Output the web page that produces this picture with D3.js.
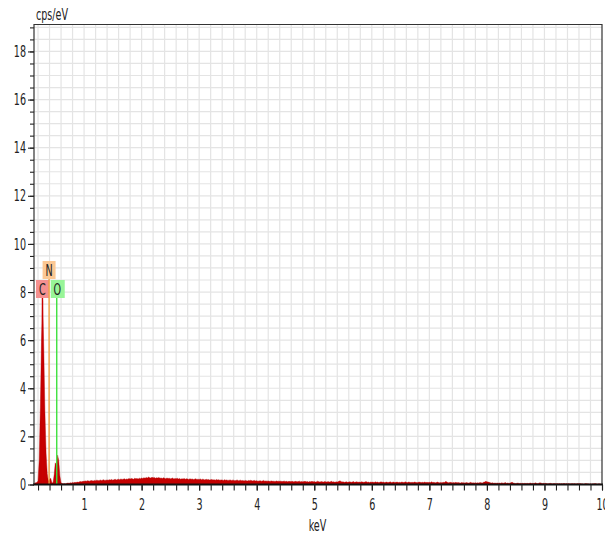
<!DOCTYPE html>
<html>
<head>
<meta charset="utf-8">
<script src="https://cdn.jsdelivr.net/npm/d3@7"></script>
<style>
  body { margin: 0; background: #fff; }
  text { font-family: "DejaVu Sans", sans-serif; fill: #222; }
</style>
</head>
<body>
<div id="vis"></div>
<script>
// spectrum: channel width 0.02 keV, first channel at 0.14 keV (cps/eV)
let channelStart = 0.14;
let channelWidth = 0.02;

let lowCounts = [
  0.06,0.07,0.08,0.15,1.0,3.2,5.9,7.65,5.6,3.0,
  1.3,0.45,0.14,0.22,0.26,0.08,0.06,0.4,0.9,0.8,
  1.22,1.0,0.35,0.07,0.04,0.03,0.04,0.03,0.05,0.06,
  0.05,0.07,0.06,0.08,0.07,0.09,0.08,0.10,0.09,0.11,
  0.12,0.11,0.13
];

let highCounts = [
  0.13,0.15,0.14,0.16,0.15,0.14,0.17,0.16,0.15,0.17,
  0.16,0.18,0.17,0.16,0.19,0.17,0.18,0.20,0.17,0.18,
  0.19,0.18,0.20,0.19,0.21,0.18,0.20,0.22,0.19,0.21,
  0.22,0.20,0.23,0.21,0.22,0.24,0.21,0.23,0.22,0.25,
  0.23,0.25,0.24,0.22,0.26,0.24,0.25,0.23,0.26,0.24,
  0.27,0.25,0.28,0.26,0.29,0.27,0.31,0.28,0.27,0.30,
  0.28,0.29,0.26,0.28,0.27,0.29,0.26,0.27,0.25,0.28,
  0.26,0.24,0.27,0.25,0.26,0.24,0.25,0.27,0.23,0.25,
  0.24,0.26,0.23,0.25,0.22,0.24,0.23,0.25,0.22,0.24,
  0.23,0.21,0.24,0.22,0.23,0.21,0.22,0.24,0.21,0.22,
  0.21,0.23,0.20,0.22,0.21,0.19,0.22,0.20,0.21,0.19,
  0.20,0.21,0.19,0.20,0.18,0.21,0.19,0.20,0.18,0.19,
  0.19,0.17,0.20,0.18,0.19,0.17,0.18,0.19,0.17,0.18,
  0.18,0.16,0.17,0.19,0.16,0.17,0.18,0.16,0.17,0.15,
  0.17,0.16,0.15,0.17,0.16,0.18,0.15,0.16,0.17,0.15,
  0.16,0.14,0.15,0.16,0.14,0.15,0.17,0.14,0.15,0.14,
  0.15,0.13,0.14,0.15,0.13,0.14,0.12,0.15,0.13,0.14,
  0.13,0.14,0.12,0.13,0.14,0.12,0.13,0.11,0.13,0.12,
  0.12,0.13,0.11,0.12,0.13,0.11,0.12,0.14,0.11,0.12,
  0.11,0.12,0.13,0.11,0.12,0.10,0.12,0.11,0.13,0.11,
  0.12,0.10,0.11,0.14,0.11,0.10,0.12,0.11,0.10,0.12,
  0.11,0.10,0.12,0.10,0.11,0.13,0.10,0.11,0.09,0.11,
  0.10,0.12,0.15,0.14,0.10,0.11,0.09,0.10,0.11,0.09,
  0.10,0.11,0.09,0.10,0.12,0.09,0.10,0.11,0.09,0.10,
  0.09,0.11,0.10,0.09,0.10,0.12,0.09,0.10,0.08,0.10,
  0.09,0.10,0.08,0.11,0.09,0.10,0.08,0.09,0.11,0.09,
  0.10,0.08,0.09,0.10,0.08,0.09,0.11,0.08,0.09,0.10,
  0.08,0.09,0.10,0.08,0.09,0.08,0.10,0.09,0.08,0.11,
  0.09,0.08,0.10,0.09,0.08,0.09,0.08,0.10,0.09,0.08,
  0.08,0.10,0.09,0.08,0.09,0.08,0.10,0.08,0.09,0.08,
  0.09,0.08,0.11,0.08,0.09,0.07,0.08,0.10,0.08,0.07,
  0.08,0.07,0.09,0.08,0.12,0.11,0.08,0.07,0.09,0.08,
  0.07,0.08,0.07,0.09,0.07,0.08,0.07,0.06,0.08,0.07,
  0.07,0.06,0.08,0.07,0.06,0.07,0.09,0.06,0.07,0.06,
  0.07,0.06,0.07,0.06,0.08,0.07,0.06,0.09,0.10,0.13,
  0.11,0.10,0.09,0.07,0.06,0.07,0.05,0.06,0.05,0.06,
  0.05,0.06,0.05,0.07,0.05,0.06,0.08,0.05,0.06,0.05,
  0.05,0.08,0.09,0.06,0.05,0.04,0.05,0.06,0.04,0.05,
  0.04,0.05,0.04,0.05,0.04,0.05,0.04,0.05,0.06,0.04,
  0.05,0.04,0.07,0.05,0.04,0.05,0.07,0.06,0.04,0.05,
  0.04,0.05,0.04,0.03,0.04,0.05,0.04,0.03,0.04,0.04,
  0.03,0.04,0.03,0.04,0.03,0.04,0.03,0.05,0.03,0.04,
  0.03,0.04,0.03,0.03,0.04,0.03,0.04,0.03,0.03,0.04,
  0.03,0.04,0.03,0.03,0.02,0.03,0.04,0.03,0.03,0.02,
  0.03,0.02,0.03,0.03,0.04,0.03,0.02,0.03,0.03,0.02
];

let elements = ["C", "N", "O"];
let elementEnergies = [0.277, 0.392, 0.525];
let elementRows = [0, 1, 0];
let elementLineColors = ["#c80000", "#f0a040", "#3ee03e"];
let elementBoxColors = ["#f59090", "#fcc894", "#98f598"];

let yMajorTicks = [0, 2, 4, 6, 8, 10, 12, 14, 16, 18];
let xMajorTicks = [1, 2, 3, 4, 5, 6, 7, 8, 9, 10];
let xLabel = "keV";
let yLabel = "cps/eV";

let width = 605, height = 534;
let margin = {top: 24.5, right: 3, bottom: 49.5, left: 34};
let squeeze = 0.6;

let counts = lowCounts.concat(highCounts);

let x = d3.scaleLinear()
    .domain([0.13, 10])
    .range([margin.left, width - margin.right]);

let y = d3.scaleLinear()
    .domain([0, 19.12])
    .range([height - margin.bottom, margin.top]);

let svg = d3.select("#vis").append("svg")
    .attr("width", width)
    .attr("height", height);

// grid
let xGrid = d3.range(1, 50).map(i => i * 0.2);
let yGrid = d3.range(1, 39).map(i => i * 0.5);

svg.append("g").selectAll("line")
  .data(xGrid)
  .enter().append("line")
    .attr("x1", d => x(d)).attr("x2", d => x(d))
    .attr("y1", y.range()[1]).attr("y2", y.range()[0])
    .attr("stroke", "#e4e4e4")
    .attr("stroke-width", 1.2);

svg.append("g").selectAll("line")
  .data(yGrid)
  .enter().append("line")
    .attr("x1", x.range()[0]).attr("x2", x.range()[1])
    .attr("y1", d => y(d)).attr("y2", d => y(d))
    .attr("stroke", "#e4e4e4")
    .attr("stroke-width", 1.2);

// spectrum
let area = d3.area()
    .x((d, i) => x(channelStart + i * channelWidth))
    .y0(y(0))
    .y1(d => y(d));

svg.append("path")
    .datum(counts)
    .attr("d", area)
    .attr("fill", "#c40000")
    .attr("stroke", "#b00000")
    .attr("stroke-width", 0.4);

// element lines and labels
let boxW = 13, boxH = 18;
let rowTop = r => 280 - r * 19;

let marker = svg.selectAll(".element")
    .data(elements)
  .enter().append("g")
    .attr("class", "element");

marker.append("line")
    .attr("x1", (d, i) => x(elementEnergies[i]))
    .attr("x2", (d, i) => x(elementEnergies[i]))
    .attr("y1", (d, i) => rowTop(elementRows[i]) + boxH)
    .attr("y2", y(0))
    .attr("stroke", (d, i) => elementLineColors[i])
    .attr("stroke-width", 1.4);

marker.append("rect")
    .attr("x", (d, i) => x(elementEnergies[i]) - boxW / 2 + (d === "O" ? 0.5 : 0))
    .attr("y", (d, i) => rowTop(elementRows[i]))
    .attr("width", (d, i) => d === "O" ? 14 : boxW)
    .attr("height", boxH)
    .attr("fill", (d, i) => elementBoxColors[i]);

marker.append("text")
    .attr("transform", (d, i) => `translate(${x(elementEnergies[i]) + (d === "O" ? 0.5 : 0)},${rowTop(elementRows[i]) + 14.5}) scale(${squeeze},1)`)
    .attr("text-anchor", "middle")
    .style("font-size", "16px")
    .text(d => d);

// frame
svg.append("path")
    .attr("d", `M${x.range()[0]},${y.range()[0]}V${y.range()[1]}H${x.range()[1]}V${y.range()[0]}`)
    .attr("fill", "none")
    .attr("stroke", "#333")
    .attr("stroke-width", 1.2);

svg.append("line")
    .attr("x1", x.range()[0] - 1).attr("x2", x.range()[1] + 1)
    .attr("y1", y(0)).attr("y2", y(0))
    .attr("stroke", "#111")
    .attr("stroke-width", 2);

// axes
let yMinor = svg.append("g")
    .attr("transform", `translate(${margin.left},0)`)
    .call(d3.axisLeft(y).tickValues(d3.range(0, 39).map(i => i * 0.5)).tickSize(4).tickFormat(""));

let yMajor = svg.append("g")
    .attr("transform", `translate(${margin.left},0)`)
    .call(d3.axisLeft(y).tickValues(yMajorTicks).tickSize(6));

let xMinor = svg.append("g")
    .attr("transform", `translate(0,${y(0)})`)
    .call(d3.axisBottom(x).tickValues(xGrid.concat([10])).tickSize(6).tickFormat(""));

let xMajor = svg.append("g")
    .attr("transform", `translate(0,${y(0)})`)
    .call(d3.axisBottom(x).tickValues(xMajorTicks).tickSize(6).tickFormat(d3.format("d")));

[yMinor, yMajor, xMinor, xMajor].forEach(g => {
  g.select(".domain").remove();
  g.selectAll(".tick line").attr("stroke", "#222").attr("stroke-width", 1.1);
});

yMajor.selectAll(".tick text")
    .attr("x", -8 / squeeze)
    .attr("transform", `scale(${squeeze},1)`)
    .style("font-size", "16px")
    .style("fill", "#222");

xMajor.selectAll(".tick text")
    .attr("y", 14)
    .attr("transform", `scale(${squeeze},1)`)
    .style("font-size", "16px")
    .style("fill", "#222");

svg.append("text")
    .attr("transform", `translate(36,19.5) scale(${squeeze},1)`)
    .style("font-size", "16px")
    .text(yLabel);

svg.append("text")
    .attr("transform", `translate(317.5,531) scale(${squeeze},1)`)
    .attr("text-anchor", "middle")
    .style("font-size", "16px")
    .text(xLabel);
</script>
</body>
</html>
